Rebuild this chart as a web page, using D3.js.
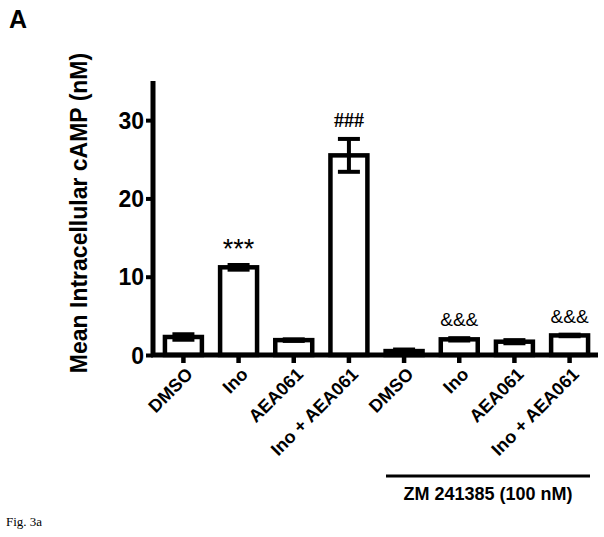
<!DOCTYPE html>
<html>
<head>
<script src="https://d3js.org/d3.v7.min.js"></script>
<style>
  body { margin: 0; background: #fff; }
</style>
</head>
<body>
<script>
var groups = ["DMSO", "Ino", "AEA061", "Ino + AEA061", "DMSO", "Ino", "AEA061", "Ino + AEA061"];
var means = [2.3, 11.2, 1.9, 25.5, 0.5, 2.0, 1.7, 2.5];
var errs = [0.35, 0.3, 0.1, 2.1, 0.2, 0.15, 0.2, 0.1];
var marks = ["", "***", "", "###", "", "&&&", "", "&&&"];
var yTicks = [0, 10, 20, 30];

var W = 604, H = 537;
var svg = d3.select("body").append("svg")
    .attr("width", W)
    .attr("height", H);

var x = d3.scaleBand()
    .domain(d3.range(groups.length))
    .range([155, 598])
    .paddingInner(0.33)
    .paddingOuter(0.18);

var y = d3.scaleLinear()
    .domain([0, 35])
    .range([355, 81]);

var font = "Arial, 'Liberation Sans', sans-serif";

// bars
svg.selectAll(".bar")
    .data(means)
    .enter().append("rect")
    .attr("x", function(d, i) { return x(i); })
    .attr("y", function(d) { return y(d); })
    .attr("width", x.bandwidth())
    .attr("height", function(d) { return y(0) - y(d); })
    .attr("fill", "#fff")
    .attr("stroke", "#000")
    .attr("stroke-width", 4.5);

// error bars
var eb = svg.selectAll(".err")
    .data(means)
    .enter().append("g")
    .attr("transform", function(d, i) { return "translate(" + (x(i) + x.bandwidth() / 2) + ",0)"; });

eb.append("line")
    .attr("y1", function(d, i) { return y(d + errs[i]); })
    .attr("y2", function(d, i) { return y(Math.max(0, d - errs[i])); })
    .attr("stroke", "#000")
    .attr("stroke-width", 4);

eb.append("line")
    .attr("x1", -11).attr("x2", 11)
    .attr("y1", function(d, i) { return y(d + errs[i]); })
    .attr("y2", function(d, i) { return y(d + errs[i]); })
    .attr("stroke", "#000")
    .attr("stroke-width", 4);

eb.append("line")
    .attr("x1", -11).attr("x2", 11)
    .attr("y1", function(d, i) { return y(Math.max(0, d - errs[i])); })
    .attr("y2", function(d, i) { return y(Math.max(0, d - errs[i])); })
    .attr("stroke", "#000")
    .attr("stroke-width", 4);

// significance marks
svg.selectAll(".mark")
    .data(means)
    .enter().append("text")
    .attr("x", function(d, i) { return x(i) + x.bandwidth() / 2; })
    .attr("y", function(d, i) { return y(d + errs[i]) - (marks[i] == "***" ? 7 : 12); })
    .attr("text-anchor", "middle")
    .style("font-family", function(d, i) { return marks[i] == "###" ? "'Liberation Serif', serif" : font; })
    .style("font-size", function(d, i) { return marks[i] == "***" ? "27px" : (marks[i] == "###" ? "20px" : "19px"); })
    .style("font-weight", function(d, i) { return marks[i] == "###" ? "bold" : "normal"; })
    .text(function(d, i) { return marks[i]; });

// y axis
var yAxis = svg.append("g")
    .attr("transform", "translate(153,0)")
    .call(d3.axisLeft(y).tickValues(yTicks).tickSize(7).tickPadding(2));
yAxis.select(".domain").attr("d", "M0," + y(35) + "V" + y(0)).attr("stroke-width", 5);
yAxis.selectAll(".tick line").attr("stroke-width", 4);
yAxis.selectAll(".tick text")
    .style("font-family", font)
    .style("font-size", "23px")
    .style("font-weight", "bold")
    .attr("dy", "0.36em");

// x axis
var xAxis = svg.append("g")
    .attr("transform", "translate(0," + y(0) + ")")
    .call(d3.axisBottom(x).tickSize(8).tickFormat(function(d) { return groups[d]; }));
xAxis.select(".domain").attr("d", "M151,0H598").attr("stroke-width", 5);
xAxis.selectAll(".tick line").attr("stroke-width", 4.5);
xAxis.selectAll(".tick text")
    .style("font-family", font)
    .style("font-size", "18px")
    .style("font-weight", "bold")
    .attr("text-anchor", "end")
    .attr("x", 0).attr("y", 0)
    .attr("dy", "0.35em")
    .attr("transform", "translate(6,16) rotate(-45)");

// y label
svg.append("text")
    .attr("transform", "translate(87,213) rotate(-90)")
    .attr("text-anchor", "middle")
    .style("font-family", font)
    .style("font-size", "23px")
    .style("font-weight", "bold")
    .text("Mean Intracellular cAMP (nM)");

// group bracket
svg.append("line")
    .attr("x1", 386).attr("x2", 590)
    .attr("y1", 476).attr("y2", 476)
    .attr("stroke", "#000")
    .attr("stroke-width", 3);

svg.append("text")
    .attr("x", 488).attr("y", 500)
    .attr("text-anchor", "middle")
    .style("font-family", font)
    .style("font-size", "18px")
    .style("font-weight", "bold")
    .text("ZM 241385 (100 nM)");

// panel letter
svg.append("text")
    .attr("x", 9).attr("y", 28)
    .style("font-family", font)
    .style("font-size", "25px")
    .style("font-weight", "bold")
    .text("A");

svg.append("text")
    .attr("x", 6).attr("y", 526)
    .style("font-family", "'Liberation Serif', 'Times New Roman', serif")
    .style("font-size", "13px")
    .text("Fig. 3a");
</script>
</body>
</html>
